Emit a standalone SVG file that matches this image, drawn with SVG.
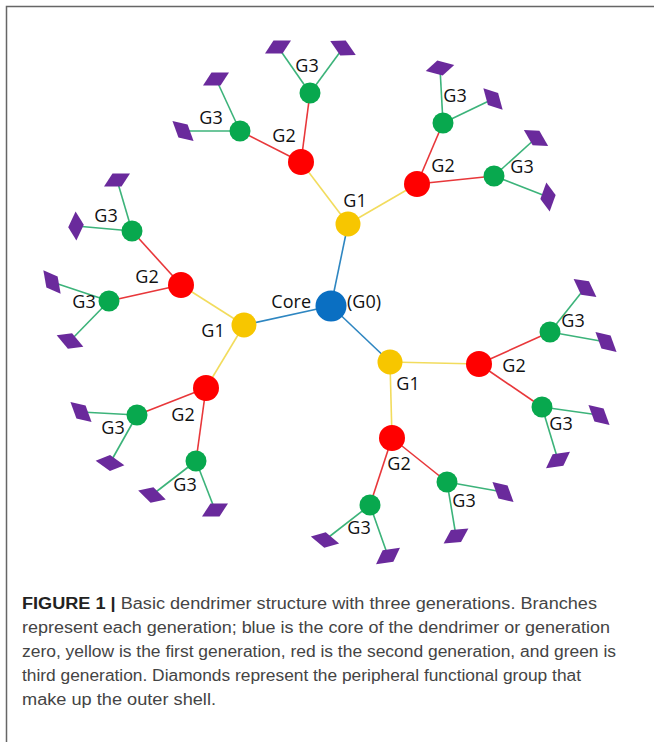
<svg xmlns="http://www.w3.org/2000/svg" width="654" height="742" viewBox="0 0 654 742">
<defs>
<polygon id="dia" points="-13,6.5 -4.5,-6.5 13,-6.5 4.5,6.5"/>
</defs>
<style>
.frame{stroke:#666;stroke-width:1.5;fill:none}
.c0{stroke:#2e86c1;stroke-width:1.6}
.c1{stroke:#f2dc5d;stroke-width:1.6}
.c2{stroke:#e8373a;stroke-width:1.6}
.c3{stroke:#3cb37a;stroke-width:1.6}
.core{fill:#0a6fc2}
.g1{fill:#f7c600}
.g2{fill:#ff0000}
.g3{fill:#08a84e}
.d{fill:#6a2a9c}
.lbl{font-family:"Open Sans","Liberation Sans",sans-serif;font-size:18px;fill:#111;text-anchor:middle}
.cap{font-family:"Liberation Sans",Arial,sans-serif;font-size:16px;fill:#444}
.capb{font-weight:bold;fill:#222}
</style>
<rect width="654" height="742" fill="#fff"/>
<path class="frame" d="M6.5,742 V6.5 H654"/>
<g id="connectors">
<line class="c0" x1="331" y1="306" x2="348" y2="224"/>
<line class="c0" x1="331" y1="306" x2="244" y2="325"/>
<line class="c0" x1="331" y1="306" x2="390" y2="362"/>
<line class="c1" x1="348" y1="224" x2="301" y2="162"/>
<line class="c1" x1="348" y1="224" x2="417" y2="184"/>
<line class="c1" x1="244" y1="325" x2="181" y2="285"/>
<line class="c1" x1="244" y1="325" x2="206" y2="388"/>
<line class="c1" x1="390" y1="362" x2="479" y2="364"/>
<line class="c1" x1="390" y1="362" x2="392" y2="438"/>
<line class="c2" x1="301" y1="162" x2="310" y2="93"/>
<line class="c2" x1="301" y1="162" x2="240" y2="131"/>
<line class="c2" x1="417" y1="184" x2="443" y2="123"/>
<line class="c2" x1="417" y1="184" x2="494" y2="176"/>
<line class="c2" x1="181" y1="285" x2="132" y2="231"/>
<line class="c2" x1="181" y1="285" x2="109" y2="301"/>
<line class="c2" x1="206" y1="388" x2="137" y2="415"/>
<line class="c2" x1="206" y1="388" x2="196" y2="461"/>
<line class="c2" x1="479" y1="364" x2="550" y2="332"/>
<line class="c2" x1="479" y1="364" x2="542" y2="407"/>
<line class="c2" x1="392" y1="438" x2="370" y2="505"/>
<line class="c2" x1="392" y1="438" x2="447" y2="482"/>
<line class="c3" x1="310" y1="93" x2="278" y2="47"/>
<line class="c3" x1="310" y1="93" x2="343" y2="48"/>
<line class="c3" x1="240" y1="131" x2="216" y2="79"/>
<line class="c3" x1="240" y1="131" x2="183" y2="131"/>
<line class="c3" x1="443" y1="123" x2="440" y2="68"/>
<line class="c3" x1="443" y1="123" x2="493" y2="99"/>
<line class="c3" x1="494" y1="176" x2="536" y2="138"/>
<line class="c3" x1="494" y1="176" x2="548" y2="197"/>
<line class="c3" x1="132" y1="231" x2="117" y2="180"/>
<line class="c3" x1="132" y1="231" x2="76" y2="226"/>
<line class="c3" x1="109" y1="301" x2="52" y2="282"/>
<line class="c3" x1="109" y1="301" x2="70" y2="341"/>
<line class="c3" x1="137" y1="415" x2="81" y2="412"/>
<line class="c3" x1="137" y1="415" x2="110" y2="463"/>
<line class="c3" x1="196" y1="461" x2="152" y2="495"/>
<line class="c3" x1="196" y1="461" x2="215" y2="510"/>
<line class="c3" x1="550" y1="332" x2="585" y2="288"/>
<line class="c3" x1="550" y1="332" x2="606" y2="342"/>
<line class="c3" x1="542" y1="407" x2="599" y2="415"/>
<line class="c3" x1="542" y1="407" x2="558" y2="460"/>
<line class="c3" x1="370" y1="505" x2="325" y2="540"/>
<line class="c3" x1="370" y1="505" x2="388" y2="556"/>
<line class="c3" x1="447" y1="482" x2="456" y2="536"/>
<line class="c3" x1="447" y1="482" x2="503" y2="492"/>
</g>
<g id="core"><circle class="core" cx="331" cy="306" r="15.5"/>
<text class="lbl" x="311" y="308" style="text-anchor:end">Core</text>
<text class="lbl" x="347" y="308" style="text-anchor:start">(G0)</text></g>
<g id="g1-a"><circle class="g1" cx="348" cy="224" r="12.5"/><text class="lbl" x="355" y="207">G1</text></g>
<g id="g1-b"><circle class="g1" cx="244" cy="325" r="12.5"/><text class="lbl" x="213" y="337">G1</text></g>
<g id="g1-c"><circle class="g1" cx="390" cy="362" r="12.5"/><text class="lbl" x="408" y="390">G1</text></g>
<g id="g2-a1"><circle class="g2" cx="301" cy="162" r="13"/><text class="lbl" x="284" y="142">G2</text></g>
<g id="g2-a2"><circle class="g2" cx="417" cy="184" r="13"/><text class="lbl" x="443" y="172">G2</text></g>
<g id="g2-b1"><circle class="g2" cx="181" cy="285" r="13"/><text class="lbl" x="147" y="283">G2</text></g>
<g id="g2-b2"><circle class="g2" cx="206" cy="388" r="13"/><text class="lbl" x="183" y="421">G2</text></g>
<g id="g2-c1"><circle class="g2" cx="479" cy="364" r="13"/><text class="lbl" x="514" y="372">G2</text></g>
<g id="g2-c2"><circle class="g2" cx="392" cy="438" r="13"/><text class="lbl" x="399" y="470">G2</text></g>
<g id="g3-1"><circle class="g3" cx="310" cy="93" r="10.5"/><text class="lbl" x="307" y="72">G3</text></g>
<g id="g3-2"><circle class="g3" cx="240" cy="131" r="10.5"/><text class="lbl" x="211" y="124">G3</text></g>
<g id="g3-3"><circle class="g3" cx="443" cy="123" r="10.5"/><text class="lbl" x="455" y="102">G3</text></g>
<g id="g3-4"><circle class="g3" cx="494" cy="176" r="10.5"/><text class="lbl" x="522" y="173">G3</text></g>
<g id="g3-5"><circle class="g3" cx="132" cy="231" r="10.5"/><text class="lbl" x="106" y="222">G3</text></g>
<g id="g3-6"><circle class="g3" cx="109" cy="301" r="10.5"/><text class="lbl" x="84" y="308">G3</text></g>
<g id="g3-7"><circle class="g3" cx="137" cy="415" r="10.5"/><text class="lbl" x="113" y="434">G3</text></g>
<g id="g3-8"><circle class="g3" cx="196" cy="461" r="10.5"/><text class="lbl" x="185" y="491">G3</text></g>
<g id="g3-9"><circle class="g3" cx="550" cy="332" r="10.5"/><text class="lbl" x="573" y="327">G3</text></g>
<g id="g3-10"><circle class="g3" cx="542" cy="407" r="10.5"/><text class="lbl" x="561" y="430">G3</text></g>
<g id="g3-11"><circle class="g3" cx="370" cy="505" r="10.5"/><text class="lbl" x="359" y="534">G3</text></g>
<g id="g3-12"><circle class="g3" cx="447" cy="482" r="10.5"/><text class="lbl" x="464" y="507">G3</text></g>
<g id="d1"><use href="#dia" class="d" transform="translate(278,47)"/></g>
<g id="d2"><use href="#dia" class="d" transform="translate(343,48) rotate(55)"/></g>
<g id="d3"><use href="#dia" class="d" transform="translate(216,79)"/></g>
<g id="d4"><use href="#dia" class="d" transform="translate(183,131) rotate(70)"/></g>
<g id="d5"><use href="#dia" class="d" transform="translate(440,68) rotate(15)"/></g>
<g id="d6"><use href="#dia" class="d" transform="translate(493,99) rotate(75)"/></g>
<g id="d7"><use href="#dia" class="d" transform="translate(536,138) rotate(60)"/></g>
<g id="d8"><use href="#dia" class="d" transform="translate(548,197) rotate(110)"/></g>
<g id="d9"><use href="#dia" class="d" transform="translate(117,180)"/></g>
<g id="d10"><use href="#dia" class="d" transform="translate(76,226) rotate(-65)"/></g>
<g id="d11"><use href="#dia" class="d" transform="translate(52,282) rotate(80)"/></g>
<g id="d12"><use href="#dia" class="d" transform="translate(70,341) rotate(50)"/></g>
<g id="d13"><use href="#dia" class="d" transform="translate(81,412) rotate(70)"/></g>
<g id="d14"><use href="#dia" class="d" transform="translate(110,463) rotate(35)"/></g>
<g id="d15"><use href="#dia" class="d" transform="translate(152,495) rotate(45)"/></g>
<g id="d16"><use href="#dia" class="d" transform="translate(215,510)"/></g>
<g id="d17"><use href="#dia" class="d" transform="translate(585,288) rotate(65)"/></g>
<g id="d18"><use href="#dia" class="d" transform="translate(606,342) rotate(70)"/></g>
<g id="d19"><use href="#dia" class="d" transform="translate(599,415) rotate(70)"/></g>
<g id="d20"><use href="#dia" class="d" transform="translate(558,460) rotate(-8)"/></g>
<g id="d21"><use href="#dia" class="d" transform="translate(325,540) rotate(40)"/></g>
<g id="d22"><use href="#dia" class="d" transform="translate(388,556) rotate(-8)"/></g>
<g id="d23"><use href="#dia" class="d" transform="translate(456,536) rotate(-5)"/></g>
<g id="d24"><use href="#dia" class="d" transform="translate(503,492) rotate(70)"/></g>
<g id="caption">
<text class="cap" x="22" y="609" textLength="575" lengthAdjust="spacingAndGlyphs"><tspan class="capb">FIGURE 1 |</tspan> Basic dendrimer structure with three generations. Branches</text>
<text class="cap" x="22" y="633" textLength="588" lengthAdjust="spacingAndGlyphs">represent each generation; blue is the core of the dendrimer or generation</text>
<text class="cap" x="22" y="657" textLength="594" lengthAdjust="spacingAndGlyphs">zero, yellow is the first generation, red is the second generation, and green is</text>
<text class="cap" x="22" y="681" textLength="559" lengthAdjust="spacingAndGlyphs">third generation. Diamonds represent the peripheral functional group that</text>
<text class="cap" x="22" y="705" textLength="194" lengthAdjust="spacingAndGlyphs">make up the outer shell.</text>
</g>
</svg>
